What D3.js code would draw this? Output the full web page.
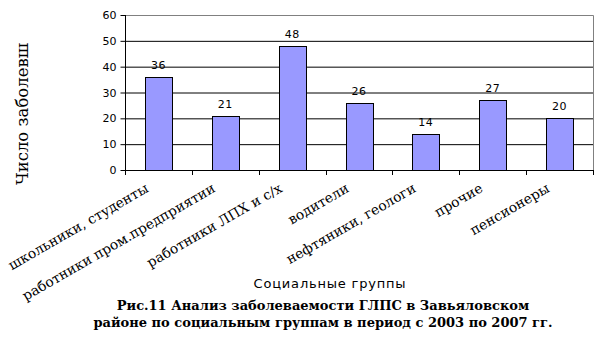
<!DOCTYPE html>
<html>
<head>
<meta charset="utf-8">
<script src="https://cdn.jsdelivr.net/npm/d3@7"></script>
<style>
  body { margin: 0; background: #fff; }
</style>
</head>
<body>
<div id="container"></div>
<script>
/* DATA */
const groups = ["школьники, студенты", "работники пром.предприятии", "работники ЛПХ и с/х",
  "водители", "нефтяники, геологи", "прочие", "пенсионеры"];
const cases = [36, 21, 48, 26, 14, 27, 20];
const yTicks = [0, 10, 20, 30, 40, 50, 60];

/* CONSTANTS */
const width = 606, height = 353;
const plot = { left: 125, right: 593, top: 15, bottom: 170 };

const svg = d3.select("#container").append("svg")
  .attr("width", width)
  .attr("height", height);

/* SCALES */
const xScale = d3.scaleBand()
  .domain(groups)
  .range([plot.left, plot.right])
  .paddingInner(0.6)
  .paddingOuter(0.3);

const yScale = d3.scaleLinear()
  .domain([0, 60])
  .range([plot.bottom, plot.top]);

// gridlines
svg.append("g")
  .selectAll("line")
  .data(yTicks.filter(d => d > 0 && d < 60))
  .join("line")
  .attr("x1", plot.left).attr("x2", plot.right)
  .attr("y1", d => yScale(d) + 0.5).attr("y2", d => yScale(d) + 0.5)
  .attr("stroke", "#000");

// plot border top/right
svg.append("path")
  .attr("d", `M${plot.left},${yScale(60) + 0.5}H${plot.right + 0.5}V${plot.bottom}`)
  .attr("fill", "none")
  .attr("stroke", "#808080");

// bars
svg.selectAll("rect.bar")
  .data(cases)
  .join("rect")
  .attr("class", "bar")
  .attr("x", (d, i) => Math.round(xScale(groups[i])) + 0.5)
  .attr("width", Math.round(xScale.bandwidth()))
  .attr("y", d => Math.round(yScale(d)) + 0.5)
  .attr("height", d => Math.round(yScale(0)) - Math.round(yScale(d)))
  .attr("fill", "#9999ff")
  .attr("stroke", "#000");

// value labels
svg.selectAll("text.val")
  .data(cases)
  .join("text")
  .attr("class", "val")
  .attr("x", (d, i) => xScale(groups[i]) + xScale.bandwidth() / 2)
  .attr("y", d => yScale(d) - 8)
  .attr("text-anchor", "middle")
  .attr("font-family", "DejaVu Sans")
  .attr("font-size", 11)
  .attr("letter-spacing", 0.5)
  .text(d => d);

// y axis
const yAxis = d3.axisLeft(yScale).tickValues(yTicks).tickSize(5).tickSizeOuter(0);
svg.append("g")
  .attr("transform", `translate(${plot.left + 0.5},0)`)
  .call(yAxis)
  .call(g => g.select(".domain").attr("d", `M0,${plot.top}V${plot.bottom + 5}`))
  .call(g => g.selectAll("text").attr("font-family", "DejaVu Sans").attr("font-size", 11).attr("fill", "#000").attr("x", -9));

// x axis: ticks on category boundaries
const step = xScale.step();
const bounds = d3.range(groups.length + 1).map(i => plot.left + i * step);
const xg = svg.append("g");
xg.append("line")
  .attr("x1", plot.left).attr("x2", plot.right + 1)
  .attr("y1", plot.bottom + 0.5).attr("y2", plot.bottom + 0.5)
  .attr("stroke", "#000");
xg.selectAll("line.tick")
  .data(bounds)
  .join("line")
  .attr("class", "tick")
  .attr("x1", d => Math.round(d) + 0.5).attr("x2", d => Math.round(d) + 0.5)
  .attr("y1", plot.bottom).attr("y2", plot.bottom + 5)
  .attr("stroke", "#000");

// category labels, rotated
svg.selectAll("text.cat")
  .data(groups)
  .join("text")
  .attr("class", "cat")
  .attr("text-anchor", "end")
  .attr("font-family", "DejaVu Serif")
  .attr("font-size", 13.8)
  .attr("transform", d => `translate(${xScale(d) + xScale.bandwidth() / 2 - 9},191) rotate(-30)`)
  .text(d => d);

// axis titles
svg.append("text")
  .attr("transform", "translate(28,114) rotate(-90)")
  .attr("text-anchor", "middle")
  .attr("font-family", "DejaVu Serif")
  .attr("font-size", 16.5)
  .text("Число заболевш");

svg.append("text")
  .attr("x", 330).attr("y", 288)
  .attr("text-anchor", "middle")
  .attr("font-family", "DejaVu Sans")
  .attr("font-size", 13)
  .attr("letter-spacing", 0.8)
  .text("Социальные группы");

// caption
const caption = ["Рис.11 Анализ заболеваемости ГЛПС в Завьяловском",
  "районе по социальным группам в период с 2003 по 2007 гг."];
svg.selectAll("text.cap")
  .data(caption)
  .join("text")
  .attr("class", "cap")
  .attr("x", 323)
  .attr("y", (d, i) => 310 + i * 17)
  .attr("text-anchor", "middle")
  .attr("font-family", "DejaVu Serif")
  .attr("font-weight", "bold")
  .attr("font-size", 13)
  .text(d => d);
</script>
</body>
</html>
